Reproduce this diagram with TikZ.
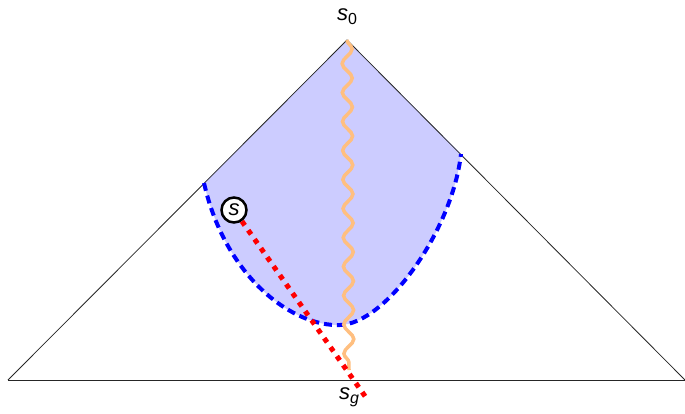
\documentclass[tikz,border=0pt]{standalone}
\usepackage{fontspec}
\setmainfont{Liberation Sans}
\usetikzlibrary{decorations.pathmorphing}
\begin{document}
\begin{tikzpicture}[x=1pt,y=-1pt,
  edgeline/.style={line width=0.8pt,black!85},
  bluecurve/.style={blue,line width=4pt,dash pattern=on 8pt off 5pt},
  reddots/.style={red,line width=5pt,dash pattern=on 5pt off 6pt},
  wavy/.style={orange!50,line width=3.5pt,decorate,decoration={snake,segment length=29pt,amplitude=5pt}},
  lbl/.style={font=\fontsize{22}{24}\selectfont,inner sep=1pt},
  statenode/.style={circle,draw=black,line width=2.5pt,fill=white,inner sep=0pt,minimum size=25pt,font=\fontsize{22}{24}\selectfont\itshape}]
\useasboundingbox (0,0) rectangle (685,413);
\coordinate (apex) at (347,40);
\coordinate (bl) at (8,380);
\coordinate (br) at (685,380);
\coordinate (cl) at (204,183);
\coordinate (cr) at (461,154);
\coordinate (cm) at (340,325);
\coordinate (wend) at (349,370);
\coordinate (rend) at (367,399);
% shaded region
\fill[blue!20] (apex) -- (cl) .. controls (226,280) and (295,327) .. (cm)
   .. controls (385,324) and (452,232) .. (cr) -- cycle;
% triangle
\draw[edgeline] (bl) -- (apex) -- (br);
\draw[edgeline] (bl) -- (br);
% boundary curve
\draw[bluecurve] (cl) .. controls (226,280) and (295,327) .. (cm)
   .. controls (385,324) and (452,232) .. (cr);
% wavy path
\draw[wavy] (apex) -- (wend);
% state and dotted line
\node[statenode] (s) at (234,210) {s};
\draw[reddots] (s) -- (rend);
% labels
\node[lbl] (s0) at (347,17) {\itshape s\raisebox{-4pt}{\upshape\fontsize{16}{16}\selectfont 0}};
\node[lbl] (sg) at (349,397) {\itshape s\raisebox{-4pt}{\fontsize{16}{16}\selectfont g}};
\end{tikzpicture}
\end{document}
